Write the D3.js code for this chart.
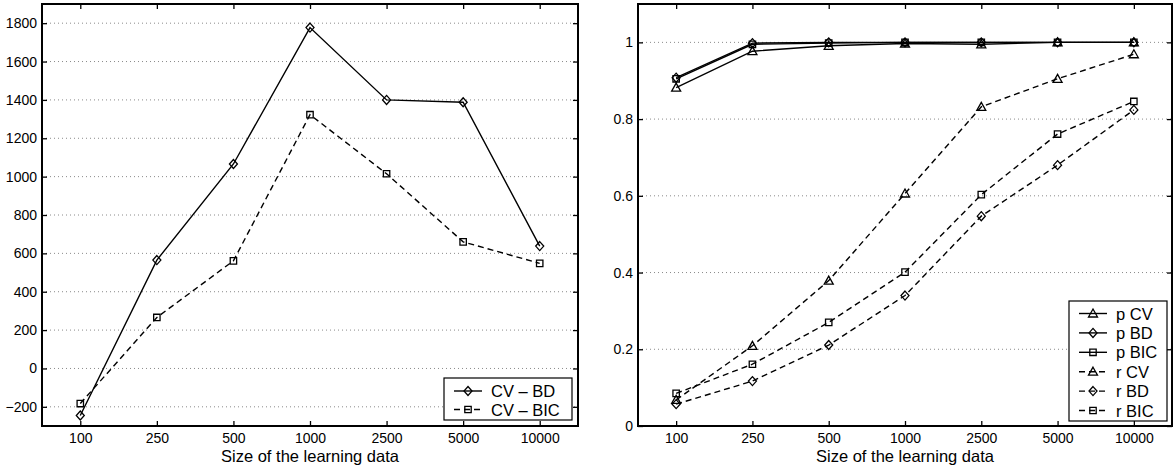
<!DOCTYPE html>
<html>
<head>
<meta charset="utf-8">
<script src="https://cdn.jsdelivr.net/npm/d3@7"></script>
<style>
  body { margin: 0; background: #fff; }
  svg { display: block; font-family: "Liberation Sans", Arial, sans-serif; }
</style>
</head>
<body>
<script>
// categories (size of the learning data)
var sizes = ['100', '250', '500', '1000', '2500', '5000', '10000'];

// left panel
var cvBD  = [-245, 565, 1066, 1777, 1400, 1388, 638];
var cvBIC = [-183, 266, 561, 1323, 1015, 660, 548];
var leftTicks = [-200, 0, 200, 400, 600, 800, 1000, 1200, 1400, 1600, 1800];

// right panel
var pCV  = [0.882, 0.977, 0.991, 0.997, 0.995, 1.0, 1.0];
var pBD  = [0.908, 0.998, 1.0, 1.0, 1.0, 1.0, 1.0];
var pBIC = [0.905, 0.995, 0.998, 1.0, 1.0, 1.0, 1.0];
var rCV  = [0.068, 0.209, 0.379, 0.606, 0.832, 0.905, 0.969];
var rBD  = [0.057, 0.117, 0.211, 0.340, 0.547, 0.680, 0.824];
var rBIC = [0.085, 0.161, 0.270, 0.401, 0.603, 0.761, 0.846];
var rightTicks = [0, 0.2, 0.4, 0.6, 0.8, 1];

var svg = d3.select('body').append('svg')
    .attr('width', 1174).attr('height', 468);

// marker shapes, MATLAB style
function marker(g, type, cx, cy) {
    var p;
    if (type === 'diamond') {
        p = 'M' + cx + ',' + (cy - 4.5) + 'L' + (cx + 4) + ',' + cy + 'L' + cx + ',' + (cy + 4.5) + 'L' + (cx - 4) + ',' + cy + 'Z';
    } else if (type === 'square') {
        p = 'M' + (cx - 3.2) + ',' + (cy - 3.2) + 'h6.4v6.4h-6.4Z';
    } else {
        p = 'M' + cx + ',' + (cy - 4.5) + 'L' + (cx + 4.5) + ',' + (cy + 3.5) + 'L' + (cx - 4.5) + ',' + (cy + 3.5) + 'Z';
    }
    g.append('path').attr('d', p)
        .attr('fill', 'none').attr('stroke', '#000').attr('stroke-width', 1.3);
}

function panel(opt) {
    var g = svg.append('g');
    var x = d3.scaleLinear().domain([-0.5, 6.5]).range([opt.left, opt.right]);
    var y = d3.scaleLinear().domain(opt.yDomain).range([opt.bottom, opt.top]);

    // dotted grid
    g.selectAll('.grid').data(opt.ticks).enter().append('line')
        .attr('x1', opt.left).attr('x2', opt.right)
        .attr('y1', function(d) { return y(d); }).attr('y2', function(d) { return y(d); })
        .attr('stroke', '#8a8a8a').attr('stroke-width', 1).attr('stroke-dasharray', '1,3');

    // axes, ticks inside
    var idx = d3.range(sizes.length);
    g.append('g').attr('transform', 'translate(0,' + opt.bottom + ')')
        .call(d3.axisBottom(x).tickValues(idx).tickSizeInner(-5).tickSizeOuter(0).tickPadding(7)
            .tickFormat(function(i) { return sizes[i]; }));
    g.append('g').attr('transform', 'translate(0,' + opt.top + ')')
        .call(d3.axisTop(x).tickValues(idx).tickSizeInner(-5).tickSizeOuter(0).tickFormat(''));
    g.append('g').attr('transform', 'translate(' + opt.left + ',0)')
        .call(d3.axisLeft(y).tickValues(opt.ticks).tickSizeInner(-5).tickSizeOuter(0).tickPadding(5)
            .tickFormat(opt.fmt));
    g.append('g').attr('transform', 'translate(' + opt.right + ',0)')
        .call(d3.axisRight(y).tickValues(opt.ticks).tickSizeInner(-5).tickSizeOuter(0).tickFormat(''));
    g.selectAll('.domain').remove();
    g.selectAll('.tick line').attr('stroke', '#000').attr('stroke-width', 1.3);
    g.selectAll('.tick text').attr('font-size', 14).attr('fill', '#000')
        .attr('font-family', '"Liberation Sans", Arial, sans-serif');

    // box
    g.append('rect').attr('x', opt.left).attr('y', opt.top)
        .attr('width', opt.right - opt.left).attr('height', opt.bottom - opt.top)
        .attr('fill', 'none').attr('stroke', '#000').attr('stroke-width', 2);

    // series
    var line = d3.line().x(function(d, i) { return x(i); }).y(function(d) { return y(d); });
    opt.series.forEach(function(s) {
        g.append('path').datum(s.values).attr('d', line)
            .attr('fill', 'none').attr('stroke', '#000').attr('stroke-width', 1.4)
            .attr('stroke-dasharray', s.dashed ? '6,4' : null);
        s.values.forEach(function(v, i) { marker(g, s.marker, x(i), y(v)); });
    });

    // x label
    g.append('text').attr('x', (opt.left + opt.right) / 2).attr('y', 462)
        .attr('text-anchor', 'middle').attr('font-size', 16.5)
        .text('Size of the learning data');

    // legend
    var lg = opt.legend;
    g.append('rect').attr('x', lg.x).attr('y', lg.y).attr('width', lg.w).attr('height', lg.h)
        .attr('fill', '#fff').attr('stroke', '#000').attr('stroke-width', 1.2);
    opt.series.forEach(function(s, i) {
        var yy = lg.y + lg.first + i * lg.step;
        g.append('line').attr('x1', lg.x + 10).attr('x2', lg.x + 38).attr('y1', yy).attr('y2', yy)
            .attr('stroke', '#000').attr('stroke-width', 1.4)
            .attr('stroke-dasharray', s.dashed ? '6,4' : null);
        marker(g, s.marker, lg.x + 24, yy);
        g.append('text').attr('x', lg.x + 47).attr('y', yy + 6)
            .attr('font-size', 16.5).text(s.name);
    });
}

panel({
    left: 42, right: 578, top: 4, bottom: 426,
    yDomain: [-300, 1900], ticks: leftTicks,
    fmt: function(d) { return d < 0 ? '\u2212' + (-d) : d; },
    series: [
        { name: 'CV \u2013 BD', values: cvBD, marker: 'diamond', dashed: false },
        { name: 'CV \u2013 BIC', values: cvBIC, marker: 'square', dashed: true }
    ],
    legend: { x: 444, y: 378, w: 128, h: 42, first: 13, step: 18.5 }
});

panel({
    left: 638, right: 1172, top: 4, bottom: 426,
    yDomain: [0, 1.1], ticks: rightTicks,
    fmt: function(d) { return d3.format('~g')(d); },
    series: [
        { name: 'p CV',  values: pCV,  marker: 'triangle', dashed: false },
        { name: 'p BD',  values: pBD,  marker: 'diamond',  dashed: false },
        { name: 'p BIC', values: pBIC, marker: 'square',   dashed: false },
        { name: 'r CV',  values: rCV,  marker: 'triangle', dashed: true },
        { name: 'r BD',  values: rBD,  marker: 'diamond',  dashed: true },
        { name: 'r BIC', values: rBIC, marker: 'square',   dashed: true }
    ],
    legend: { x: 1069, y: 301, w: 98, h: 120, first: 12.5, step: 19.4 }
});
</script>
</body>
</html>
